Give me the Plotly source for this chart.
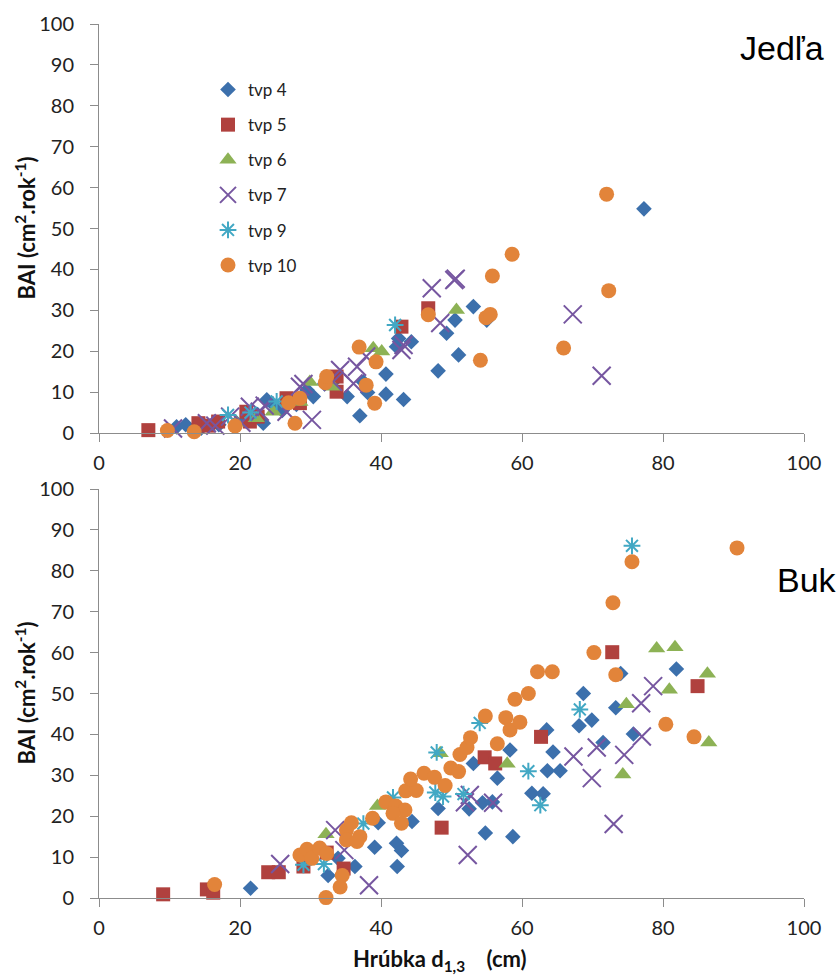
import plotly.graph_objects as go

# ---------------- data: Jedľa (top panel) ----------------
j_tvp4_x = [11.0, 12.3, 14.5, 17.0, 19.5, 21.0, 22.5, 23.3, 23.8, 25.0, 26.0, 28.0, 29.5, 30.4, 32.0, 33.5, 35.2, 37.0, 37.5, 38.1, 40.7, 40.7, 42.2, 42.5, 43.2, 44.3, 48.1, 49.3, 50.5, 51.0, 53.1, 55.0, 77.3]
j_tvp4_y = [1.5, 2.0, 1.2, 2.0, 2.5, 3.5, 4.5, 2.4, 8.1, 6.5, 5.5, 7.0, 10.5, 8.9, 12.0, 13.0, 8.9, 4.2, 12.5, 9.9, 14.4, 9.5, 21.1, 23.1, 8.2, 22.3, 15.2, 24.4, 27.6, 19.1, 30.9, 27.6, 54.8]

j_tvp5_x = [7.0, 14.1, 15.5, 16.9, 20.9, 21.4, 22.5, 26.6, 28.5, 33.7, 33.7, 42.9, 46.7]
j_tvp5_y = [0.7, 2.4, 1.8, 2.8, 5.2, 2.8, 4.0, 8.5, 7.3, 13.8, 10.1, 26.0, 30.5]

j_tvp6_x = [19.5, 22.3, 24.7, 28.5, 29.9, 33.2, 38.9, 40.1, 50.7]
j_tvp6_y = [2.5, 3.6, 5.2, 7.6, 12.5, 11.3, 20.7, 19.9, 30.1]

j_tvp7_x = [10.5, 15.3, 16.5, 18.6, 20.2, 21.4, 22.8, 23.5, 26.6, 28.5, 29.0, 30.2, 33.2, 34.2, 36.1, 36.6, 37.9, 42.9, 43.2, 47.2, 48.4, 50.4, 50.6, 67.2, 71.3]
j_tvp7_y = [1.1, 2.4, 1.8, 4.0, 2.5, 6.4, 5.2, 6.7, 5.2, 11.3, 12.0, 3.2, 12.5, 15.4, 12.1, 16.2, 18.7, 20.3, 21.5, 35.4, 26.9, 37.4, 37.7, 29.0, 14.0]

j_tvp9_x = [18.3, 21.5, 25.2, 42.0]
j_tvp9_y = [4.4, 5.0, 7.7, 26.4]

j_tvp10_x = [9.7, 13.5, 19.3, 26.9, 27.8, 28.5, 32.1, 32.3, 36.9, 37.9, 39.1, 39.3, 46.7, 54.1, 54.9, 55.5, 55.8, 58.6, 65.9, 72.0, 72.3]
j_tvp10_y = [0.6, 0.3, 1.7, 7.4, 2.4, 8.5, 12.3, 13.8, 21.0, 11.7, 7.3, 17.4, 28.9, 17.8, 28.2, 29.0, 38.4, 43.7, 20.8, 58.4, 34.8]

# ---------------- data: Buk (bottom panel) ----------------
b_tvp4_x = [21.5, 32.5, 33.9, 36.3, 39.1, 39.6, 42.2, 42.9, 42.3, 44.4, 48.1, 52.5, 53.1, 54.4, 55.8, 54.8, 56.5, 58.3, 58.7, 61.4, 63.0, 63.6, 65.4, 63.5, 64.4, 68.1, 68.7, 69.9, 71.5, 73.3, 74.0, 75.8, 81.9]
b_tvp4_y = [2.4, 5.5, 9.7, 7.7, 12.4, 18.4, 13.4, 11.6, 7.7, 18.7, 21.9, 21.8, 32.9, 23.3, 23.5, 15.9, 29.3, 36.2, 15.0, 25.6, 25.5, 31.1, 31.1, 41.1, 35.7, 42.1, 50.0, 43.5, 38.0, 46.5, 54.9, 40.1, 56.0]

b_tvp5_x = [9.1, 15.3, 16.2, 24.0, 25.5, 29.0, 32.3, 34.7, 48.6, 54.7, 56.2, 62.7, 72.8, 84.9]
b_tvp5_y = [0.9, 2.1, 1.3, 6.3, 6.3, 7.7, 11.1, 7.2, 17.2, 34.4, 32.9, 39.4, 60.1, 51.8]

b_tvp6_x = [32.2, 39.5, 48.4, 57.9, 74.3, 74.8, 79.1, 80.9, 81.7, 86.3, 86.5]
b_tvp6_y = [15.6, 22.5, 35.4, 32.8, 30.2, 47.4, 61.0, 50.9, 61.3, 54.8, 38.0]

b_tvp7_x = [25.7, 33.5, 34.8, 38.3, 51.9, 52.6, 52.3, 55.9, 67.3, 69.9, 70.6, 73.0, 74.5, 77.0, 76.9, 78.6]
b_tvp7_y = [8.3, 16.6, 11.7, 3.1, 23.4, 25.2, 10.5, 23.3, 34.6, 29.3, 36.8, 18.1, 35.0, 39.5, 47.6, 51.8]

b_tvp9_x = [29.0, 31.9, 37.5, 41.7, 47.9, 47.7, 48.8, 51.7, 54.0, 60.9, 62.6, 68.2, 75.6]
b_tvp9_y = [8.1, 8.3, 18.2, 24.6, 35.6, 25.8, 24.8, 25.4, 42.8, 31.0, 22.7, 46.1, 86.1]

b_tvp10_x = [16.4, 32.2, 34.2, 34.5, 28.5, 29.5, 30.2, 31.3, 32.3, 35.1, 35.8, 37.0, 35.1, 36.6, 38.8, 40.7, 42.1, 43.4, 41.7, 42.9, 43.5, 45.0, 44.2, 46.1, 47.6, 49.1, 49.9, 51.0, 51.2, 52.2, 52.7, 54.8, 56.5, 57.7, 58.3, 59.7, 59.0, 60.9, 62.2, 64.3, 70.2, 73.3, 72.9, 75.6, 80.4, 84.4, 90.5]
b_tvp10_y = [3.3, 0.1, 2.7, 5.5, 10.5, 11.9, 9.7, 12.2, 10.9, 16.6, 18.4, 15.0, 14.2, 13.8, 19.5, 23.5, 22.5, 21.5, 20.7, 18.3, 26.2, 26.3, 29.1, 30.5, 29.5, 27.5, 31.8, 30.9, 35.1, 36.8, 39.2, 44.5, 37.7, 44.1, 41.1, 43.0, 48.6, 50.0, 55.3, 55.3, 60.0, 54.6, 72.2, 82.2, 42.5, 39.4, 85.6]

series_names = ["tvp 4", "tvp 5", "tvp 6", "tvp 7", "tvp 9", "tvp 10"]
tick_vals = [0, 20, 40, 60, 80, 100]
ytick_vals = [0, 10, 20, 30, 40, 50, 60, 70, 80, 90, 100]

# ---------------- styles ----------------
styles = [
    dict(symbol="diamond", size=12, color="#3C70AC"),
    dict(symbol="square", size=14, color="#B0413E"),
    dict(symbol="triangle-up", size=15, color="#8DB255"),
    dict(symbol="x-thin-open", size=18, color="#7656A0", line=dict(width=2, color="#7656A0")),
    dict(symbol="asterisk-open", size=14, color="#42A8C4", line=dict(width=2, color="#42A8C4")),
    dict(symbol="circle", size=15, color="#E2843A"),
]

top_data = [(j_tvp4_x, j_tvp4_y), (j_tvp5_x, j_tvp5_y), (j_tvp6_x, j_tvp6_y),
            (j_tvp7_x, j_tvp7_y), (j_tvp9_x, j_tvp9_y), (j_tvp10_x, j_tvp10_y)]
bot_data = [(b_tvp4_x, b_tvp4_y), (b_tvp5_x, b_tvp5_y), (b_tvp6_x, b_tvp6_y),
            (b_tvp7_x, b_tvp7_y), (b_tvp9_x, b_tvp9_y), (b_tvp10_x, b_tvp10_y)]

fig = go.Figure()
for i, name in enumerate(series_names):
    st = dict(styles[i])
    mk = dict(symbol=st["symbol"], size=st["size"], color=st["color"])
    if "line" in st:
        mk["line"] = st["line"]
    x, y = top_data[i]
    fig.add_trace(go.Scatter(x=x, y=y, mode="markers", name=name, marker=mk,
                             legendgroup=name, showlegend=True, cliponaxis=False,
                             xaxis="x", yaxis="y"))
for i, name in enumerate(series_names):
    st = dict(styles[i])
    mk = dict(symbol=st["symbol"], size=st["size"], color=st["color"])
    if "line" in st:
        mk["line"] = st["line"]
    x, y = bot_data[i]
    fig.add_trace(go.Scatter(x=x, y=y, mode="markers", name=name, marker=mk,
                             legendgroup=name, showlegend=False, cliponaxis=False,
                             xaxis="x2", yaxis="y2"))

FONT = "Lato, 'Open Sans', sans-serif"
axis_col = "#8C8C8C"
xcommon = dict(range=[0, 100], tickvals=tick_vals, showline=True, linecolor=axis_col, linewidth=1,
               ticks="outside", ticklen=8, tickcolor=axis_col, showgrid=False, zeroline=False,
               tickfont=dict(family=FONT, size=20, color="#222"), ticklabelstandoff=4, fixedrange=True)
ycommon = dict(range=[0, 100], tickvals=ytick_vals, showline=True, linecolor=axis_col, linewidth=1,
               ticks="outside", ticklen=8, tickcolor=axis_col, showgrid=False, zeroline=False,
               tickfont=dict(family=FONT, size=20, color="#222"), ticklabelstandoff=12, fixedrange=True)

top_dom = [465 / 874, 1.0]
bot_dom = [0.0, 409 / 874]

fig.update_layout(
    width=836, height=979,
    margin=dict(l=99, r=32, t=24, b=81),
    paper_bgcolor="white", plot_bgcolor="white",
    xaxis=dict(domain=[0, 1], anchor="y", **xcommon),
    yaxis=dict(domain=top_dom, anchor="x", **ycommon),
    xaxis2=dict(domain=[0, 1], anchor="y2", **xcommon),
    yaxis2=dict(domain=bot_dom, anchor="x2", **ycommon),
    legend=dict(x=(208 - 99) / 705, y=(898 - 72) / 874, xanchor="left", yanchor="top",
                bgcolor="rgba(0,0,0,0)", font=dict(family=FONT, size=17, color="#222"),
                tracegroupgap=10, itemclick=False, itemdoubleclick=False),
    showlegend=True,
)

ytitle = "BAI (cm<sup>2</sup>.rok<sup>-1</sup>)"
fig.add_annotation(text=ytitle, textangle=-90, xref="paper", yref="y domain", x=(25 - 99) / 705, y=0.5,
                   xanchor="center", yanchor="middle", showarrow=False,
                   font=dict(family=FONT, size=22, color="#111", weight="bold"))
fig.add_annotation(text=ytitle, textangle=-90, xref="paper", yref="y2 domain", x=(25 - 99) / 705, y=0.5,
                   xanchor="center", yanchor="middle", showarrow=False,
                   font=dict(family=FONT, size=22, color="#111", weight="bold"))
fig.add_annotation(text="Hrúbka d<sub>1,3</sub>    (cm)", xref="paper", yref="paper",
                   x=(440 - 99) / 705, y=(898 - 960) / 874, xanchor="center", yanchor="middle",
                   showarrow=False, font=dict(family=FONT, size=22, color="#111", weight="bold"))
fig.add_annotation(text="Jedľa", xref="paper", yref="paper", x=(782 - 99) / 705, y=(898 - 48) / 874,
                   xanchor="center", yanchor="middle", showarrow=False,
                   font=dict(family="Liberation Sans, Arial, sans-serif", size=34, color="#000"))
fig.add_annotation(text="Buk", xref="paper", yref="paper", x=(775 - 99) / 705, y=(898 - 580) / 874,
                   xanchor="left", yanchor="middle", showarrow=False,
                   font=dict(family="Liberation Sans, Arial, sans-serif", size=34, color="#000"))

fig.write_html("out.html")
